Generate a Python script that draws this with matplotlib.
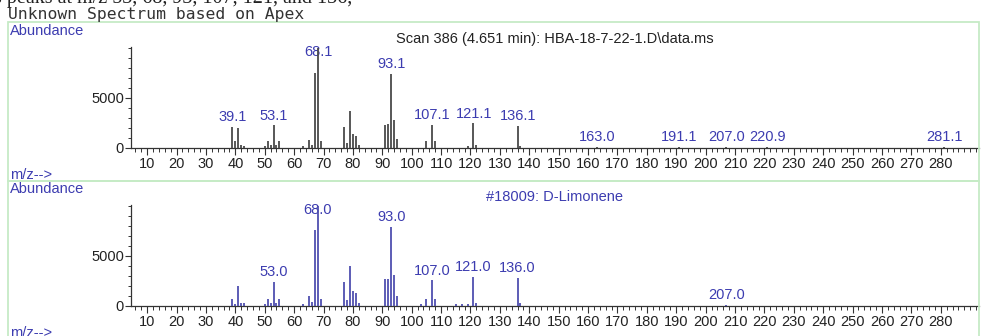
import matplotlib.pyplot as plt
from matplotlib.patches import Rectangle
from matplotlib.ticker import MultipleLocator, FixedLocator

# spectrum from the unknown (apex scan)
scan_mz = [39, 40, 41, 42, 43, 50, 51, 52, 53, 54, 55, 63, 65, 66, 67, 68, 69,
           77, 78, 79, 80, 81, 82, 91, 92, 93, 94, 95, 105, 107, 108, 119, 121,
           122, 136, 137, 163, 191, 207, 221, 281]
scan_abund = [2100, 700, 1930, 300, 200, 150, 630, 300, 2230, 250, 700, 200, 800,
              300, 7470, 10000, 630, 2030, 430, 3630, 1370, 1200, 300, 2230, 2370,
              7370, 2800, 900, 630, 2270, 630, 200, 2430, 300, 2170, 200, 60, 60,
              60, 60, 60]
scan_labels = [39.1, 53.1, 68.1, 93.1, 107.1, 121.1, 136.1, 163.0, 191.1, 207.0, 220.9, 281.1]

# library hit
lib_mz = [39, 40, 41, 42, 43, 50, 51, 52, 53, 54, 55, 63, 65, 66, 67, 68, 69,
          77, 78, 79, 80, 81, 82, 91, 92, 93, 94, 95, 103, 105, 107, 108, 115,
          117, 119, 121, 122, 136, 137, 207]
lib_abund = [670, 200, 1970, 300, 250, 150, 640, 300, 2400, 300, 700, 200, 970,
             400, 7570, 10000, 670, 2340, 570, 3970, 1470, 1240, 300, 2640, 2640,
             7900, 3070, 970, 200, 640, 2540, 640, 150, 150, 150, 2900, 300, 2800,
             250, 80]
lib_labels = [53.0, 68.0, 93.0, 107.0, 121.0, 136.0, 207.0]

scan_title = 'Scan 386 (4.651 min): HBA-18-7-22-1.D\\data.ms'
lib_title = '#18009: D-Limonene'

W, H = 981, 336
blue = '#3c3cb0'
green = '#c6ebc6'
plt.rcParams['font.family'] = ['Liberation Sans', 'DejaVu Sans']

fig = plt.figure(figsize=(W / 100, H / 100), dpi=100)


def px(x, y):
    return x / W, 1 - y / H


# light green frames around the two panels
for y0, y1 in [(22, 181), (181, 345)]:
    fig.patches.append(Rectangle(px(8, y1), (979 - 8) / W, (y1 - y0) / H,
                                 transform=fig.transFigure, fill=False,
                                 edgecolor=green, lw=1.3, zorder=0))

# header lines (first one is cut off at the top of the screenshot)
fig.text(*px(-6, 3.5), 's peaks at m/z 53, 68, 93, 107, 121, and 136,',
         family='Liberation Serif', fontsize=14.5, color='#222222', va='baseline')
fig.text(*px(8, 19.5), 'Unknown Spectrum based on Apex',
         family='DejaVu Sans Mono', fontsize=11.8, color='#333333', va='baseline')


def panel(y_zero, mz, abund, labels, bar_color, title):
    left, bottom = px(131, y_zero)
    ax = fig.add_axes([left, bottom, (979 - 131) / W, 101 / H])
    ax.set_xlim(4.5, 293)
    ax.set_ylim(0, 10100)
    for s in ['top', 'right']:
        ax.spines[s].set_visible(False)
    for s in ['left', 'bottom']:
        ax.spines[s].set_color('#333333')
        ax.spines[s].set_linewidth(0.9)
    ax.xaxis.set_minor_locator(MultipleLocator(2))
    ax.set_xticks(range(10, 290, 10))
    ax.yaxis.set_major_locator(FixedLocator([0, 5000]))
    ax.yaxis.set_minor_locator(MultipleLocator(1000))
    ax.tick_params(axis='x', which='major', length=5, width=0.8, pad=2,
                   labelsize=10.5, colors='#333333', labelcolor='#222222')
    ax.tick_params(axis='x', which='minor', length=3, width=0.7, colors='#333333')
    ax.tick_params(axis='y', which='major', length=4, width=0.8, pad=1,
                   labelsize=10.5, colors='#333333', labelcolor='#222222')
    ax.tick_params(axis='y', which='minor', length=2.5, width=0.7, colors='#333333')
    ax.patch.set_alpha(0)

    for lab in labels:
        i = min(range(len(mz)), key=lambda k: abs(mz[k] - lab))
        ytop = min(abund[i], 8600)
        ax.annotate(f'{lab:.1f}', (lab, ytop), xytext=(0, 2),
                    textcoords='offset points', ha='center', va='bottom',
                    fontsize=10.5, color=blue, zorder=1)
    ax.vlines(mz, 0, abund, color=bar_color, lw=1.3, zorder=3)

    fig.text(*px(10, y_zero - 117), 'Abundance', fontsize=10.5, color=blue, va='center')
    fig.text(*px(10, y_zero + 27), 'm/z-->', fontsize=10.5, color=blue, va='center')
    fig.text(*px(555, y_zero - 109), title, fontsize=10.5, ha='center', va='center',
             color='#222222' if title.startswith('Scan') else blue)
    return ax


panel(147.7, scan_mz, scan_abund, scan_labels, '#4a4a4a', scan_title)
panel(305.7, lib_mz, lib_abund, lib_labels, '#4f4fb0', lib_title)

fig.savefig('out.png', dpi=100)
